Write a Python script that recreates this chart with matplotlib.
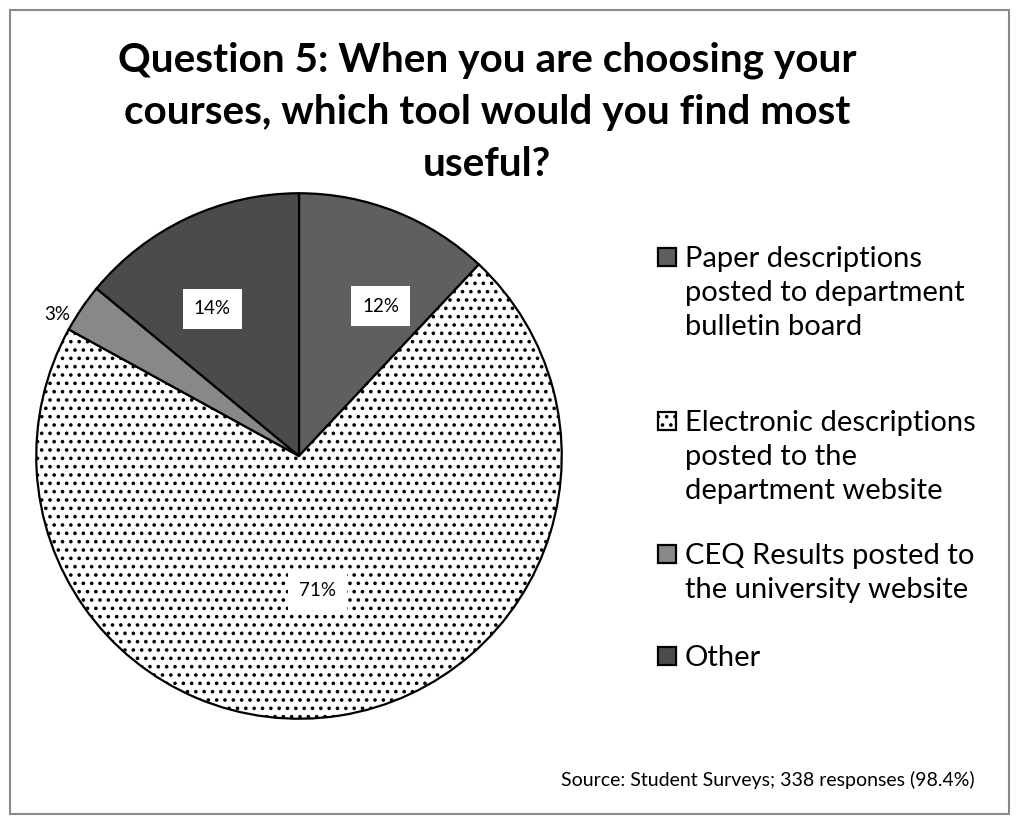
import matplotlib as mpl
mpl.use('Agg')
import matplotlib.pyplot as plt
from matplotlib.patches import Rectangle

plt.rcParams['font.family'] = ['Lato', 'DejaVu Sans']
plt.rcParams['hatch.linewidth'] = 1.4

# survey answers, clockwise from 12 o'clock
categories = ['Paper descriptions\nposted to department\nbulletin board',
              'Electronic descriptions\nposted to the\ndepartment website',
              'CEQ Results posted to\nthe university website',
              'Other']
shares = [12, 71, 3, 14]
pct_labels = ['12%', '71%', '3%', '14%']
title = 'Question 5: When you are choosing your\ncourses, which tool would you find most\nuseful?'
source = 'Source: Student Surveys; 338 responses (98.4%)'

colors = ['#5f5f5f', 'white', '#888888', '#4b4b4b']
hatches = [None, '..', None, None]
# label spots in pie axes units (radius = 1)
label_pos = [(0.31, 0.57), (0.07, -0.51), (-0.92, 0.54), (-0.33, 0.56)]
boxed = [True, True, False, True]
# first-line centre of each legend entry, pixels from top
legend_y = [257, 421, 554, 656]

W, H = 1019, 824
fig = plt.figure(figsize=(W / 100, H / 100), dpi=100)

# chart area border
fig.patches.append(Rectangle((10 / W, 10 / H), (W - 20) / W, (H - 20) / H,
                             transform=fig.transFigure, fill=False,
                             edgecolor='#898989', linewidth=1.5))

cx, cy, r = 299, 456, 268
ax = fig.add_axes([(cx - r) / W, (H - cy - r) / H, 2 * r / W, 2 * r / H])
wedges, _ = ax.pie(shares, colors=colors, startangle=90, counterclock=False,
                   radius=1, wedgeprops=dict(edgecolor='black', linewidth=1.6))
for w, h in zip(wedges, hatches):
    if h:
        w.set_hatch(h)
ax.set_xlim(-1.02, 1.02)
ax.set_ylim(-1.02, 1.02)
ax.set_aspect('auto')
ax.axis('off')

for txt, (x, y), b in zip(pct_labels, label_pos, boxed):
    kw = dict(ha='center', va='center', fontsize=13.5, color='black')
    if b:
        kw['bbox'] = dict(boxstyle='square,pad=0.6', facecolor='white',
                          edgecolor='none')
    ax.text(x, y, txt, **kw)

fig.text(487 / W, 1 - 112 / H, title, ha='center', va='center',
         fontsize=29.2, fontweight='bold', linespacing=1.5)

# legend: swatch beside the first line of each label
sq = 18
for w, lab, y in zip(wedges, categories, legend_y):
    sw = Rectangle((658 / W, 1 - (y + sq / 2) / H), sq / W, sq / H,
                   transform=fig.transFigure, facecolor=w.get_facecolor(),
                   edgecolor='black', linewidth=1.6, hatch=w.get_hatch())
    fig.patches.append(sw)
    for i, line in enumerate(lab.split('\n')):
        fig.text(685 / W, 1 - (y + 10 + 34 * i) / H, line, ha='left',
                 va='baseline', fontsize=21)

fig.text(975 / W, 1 - 780 / H, source, ha='right', va='center', fontsize=14)

fig.savefig('out.png', dpi=100)
